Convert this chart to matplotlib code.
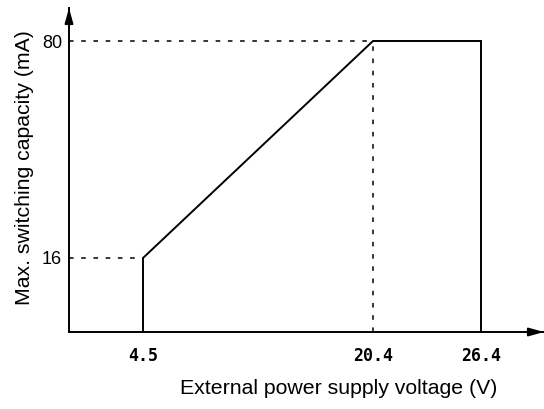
import numpy as np
import matplotlib
matplotlib.use("Agg")
import matplotlib.pyplot as plt

# boundary of the switching capacity vs. supply voltage
voltage = [4.5, 4.5, 20.4, 26.4, 26.4]
current = [0, 16, 80, 80, 0]

x_ticks = [4.5, 20.4, 26.4]
x_tick_labels = ["4.5", "20.4", "26.4"]
y_ticks = [16, 80]
y_tick_labels = ["16", "80"]

# schematic (not to scale) axes: piecewise mapping value -> pixel offset
x_knots = [0, 4.5, 20.4, 26.4, 30.0]
x_pix = [0, 74, 304, 412, 475]
y_knots = [0, 16, 80, 90]
y_pix = [0, 74, 291, 324]


def fwd(k, p):
    return lambda v: np.interp(v, k, p)


def inv(k, p):
    return lambda v: np.interp(v, p, k)


W, H = 544, 409
fig = plt.figure(figsize=(W / 100, H / 100), dpi=100)
ax = fig.add_axes([69 / W, (H - 332) / H, 475 / W, 324 / H])

ax.set_xscale("function", functions=(fwd(x_knots, x_pix), inv(x_knots, x_pix)))
ax.set_yscale("function", functions=(fwd(y_knots, y_pix), inv(y_knots, y_pix)))
ax.set_xlim(0, 30.0)
ax.set_ylim(0, 90)

ax.plot(voltage, current, color="black", lw=1.4, solid_joinstyle="miter", clip_on=False)

# guide lines to the axes
dash = dict(color="black", lw=1.1, dashes=(3, 5))
ax.plot([0, voltage[1]], [current[1], current[1]], **dash)
ax.plot([0, voltage[2]], [current[2], current[2]], **dash)
ax.plot([voltage[2], voltage[2]], [0, current[2]], **dash)

for s in ["top", "right"]:
    ax.spines[s].set_visible(False)
for s in ["left", "bottom"]:
    ax.spines[s].set_linewidth(1.4)

# arrow heads on axis ends
ax.annotate("", xy=(1, 0), xytext=(-14, 0), xycoords="axes fraction",
            textcoords="offset pixels",
            arrowprops=dict(arrowstyle="-|>,head_length=0.9,head_width=0.25",
                            color="black", lw=1.4, shrinkA=0, shrinkB=0))
ax.annotate("", xy=(0, 1), xytext=(0, -14), xycoords="axes fraction",
            textcoords="offset pixels",
            arrowprops=dict(arrowstyle="-|>,head_length=0.9,head_width=0.25",
                            color="black", lw=1.4, shrinkA=0, shrinkB=0))

ax.set_xticks(x_ticks)
ax.set_xticklabels(x_tick_labels, fontfamily="DejaVu Sans Mono", fontweight="bold", fontsize=12)
ax.set_yticks(y_ticks)
ax.set_yticklabels(y_tick_labels, fontfamily="Liberation Sans", fontsize=13)
ax.tick_params(axis="x", length=0, pad=10.5)
ax.tick_params(axis="y", length=0, pad=5)
ax.minorticks_off()

fig.text(339 / W, 1 - 389 / H, "External power supply voltage (V)",
         ha="center", va="center", fontfamily="Liberation Sans", fontsize=15.3)
fig.text(25 / W, 1 - 168 / H, "Max. switching capacity (mA)",
         ha="center", va="center", rotation=90, fontfamily="Liberation Sans", fontsize=15.3)

fig.savefig("out.png", dpi=100)
